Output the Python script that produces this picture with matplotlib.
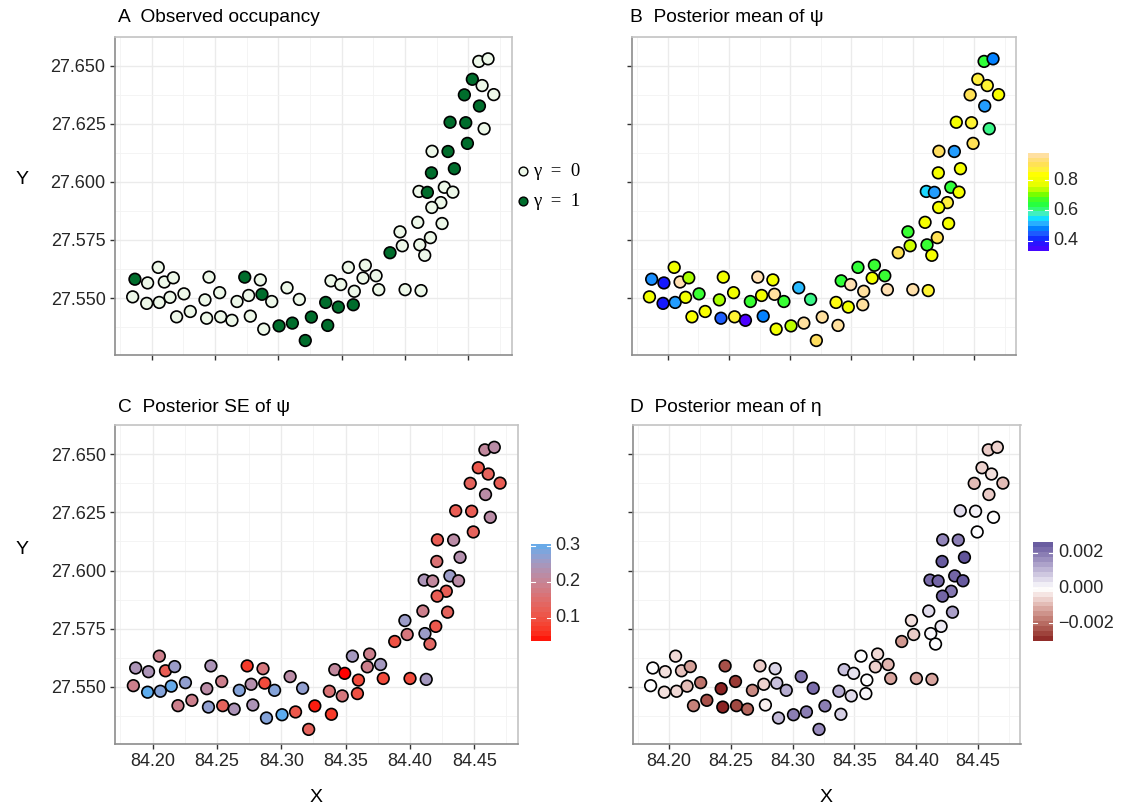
import numpy as np
import matplotlib
matplotlib.use("Agg")
import matplotlib.pyplot as plt
from matplotlib.colors import ListedColormap, Normalize, to_rgb
import matplotlib.transforms as mtransforms
import colorsys

# ---------------- data ----------------
x_coord = [84.1868, 84.1968, 84.2052, 84.2100, 84.2171, 84.1850, 84.1961, 84.2060, 84.2145, 84.2255,
           84.2197, 84.2305, 84.2453, 84.2421, 84.2537, 84.2434, 84.2545, 84.2634, 84.2735, 84.2858,
           84.2674, 84.2766, 84.2871, 84.2948, 84.2779, 84.3069, 84.3166, 84.2885, 84.3006, 84.3111,
           84.3213, 84.3261, 84.3390, 84.3374, 84.3474, 84.3592, 84.3416, 84.3493, 84.3600, 84.3553,
           84.3687, 84.3669, 84.3772, 84.3793, 84.4001, 84.4127, 84.3882, 84.3979, 84.4117, 84.4156,
           84.4583, 84.4656, 84.4532, 84.4609, 84.4701, 84.4469, 84.4588, 84.4356, 84.4480, 84.4625,
           84.4493, 84.4214, 84.4340, 84.4390, 84.4209, 84.4111, 84.4177, 84.4311, 84.4378, 84.4283,
           84.4212, 84.4101, 84.4293, 84.3961, 84.4201]
y_coord = [27.5581, 27.5565, 27.5632, 27.5569, 27.5587, 27.5505, 27.5477, 27.5481, 27.5503, 27.5518,
           27.5419, 27.5442, 27.5590, 27.5492, 27.5523, 27.5413, 27.5419, 27.5404, 27.5590, 27.5578,
           27.5485, 27.5511, 27.5516, 27.5485, 27.5422, 27.5544, 27.5494, 27.5366, 27.5380, 27.5392,
           27.5317, 27.5418, 27.5382, 27.5481, 27.5461, 27.5471, 27.5574, 27.5558, 27.5529, 27.5632,
           27.5641, 27.5586, 27.5596, 27.5536, 27.5536, 27.5532, 27.5695, 27.5725, 27.5729, 27.5684,
           27.6519, 27.6530, 27.6442, 27.6415, 27.6376, 27.6375, 27.6327, 27.6257, 27.6255, 27.6229,
           27.6166, 27.6132, 27.6131, 27.6057, 27.6039, 27.5959, 27.5955, 27.5977, 27.5956, 27.5911,
           27.5890, 27.5826, 27.5821, 27.5785, 27.5760]
occupancy = [1, 0, 0, 0, 0, 0, 0, 0, 0, 0,
             0, 0, 0, 0, 0, 0, 0, 0, 1, 0,
             0, 0, 1, 0, 0, 0, 0, 0, 1, 1,
             1, 1, 1, 1, 1, 1, 0, 0, 0, 0,
             0, 0, 0, 0, 0, 0, 1, 0, 0, 0,
             0, 0, 1, 0, 0, 1, 1, 1, 1, 0,
             1, 0, 1, 1, 1, 0, 1, 0, 0, 0,
             0, 0, 0, 0, 0]
psi_mean = [0.49, 0.40, 0.80, 0.98, 0.73, 0.80, 0.40, 0.50, 0.80, 0.66,
            0.82, 0.82, 0.80, 0.73, 0.80, 0.45, 0.86, 0.335, 0.98, 0.80,
            0.66, 0.80, 0.96, 0.66, 0.48, 0.52, 0.60, 0.80, 0.74, 0.96,
            0.91, 0.96, 0.96, 0.84, 0.80, 0.96, 0.65, 0.98, 0.96, 0.65,
            0.66, 0.80, 0.66, 0.98, 0.97, 0.86, 0.90, 0.75, 0.66, 0.81,
            0.65, 0.48, 0.87, 0.86, 0.82, 0.90, 0.50, 0.81, 0.86, 0.60,
            0.90, 0.91, 0.50, 0.81, 0.81, 0.54, 0.50, 0.65, 0.81, 0.87,
            0.81, 0.81, 0.81, 0.66, 0.90]
psi_se = [0.24, 0.24, 0.19, 0.12, 0.26, 0.19, 0.305, 0.28, 0.30, 0.27,
          0.19, 0.19, 0.24, 0.22, 0.19, 0.27, 0.13, 0.24, 0.07, 0.17,
          0.28, 0.23, 0.09, 0.28, 0.24, 0.22, 0.27, 0.28, 0.305, 0.11,
          0.13, 0.045, 0.07, 0.16, 0.17, 0.10, 0.21, 0.035, 0.09, 0.25,
          0.19, 0.19, 0.25, 0.09, 0.09, 0.25, 0.10, 0.17, 0.26, 0.14,
          0.21, 0.22, 0.11, 0.13, 0.12, 0.13, 0.22, 0.12, 0.12, 0.22,
          0.13, 0.12, 0.22, 0.23, 0.16, 0.24, 0.21, 0.26, 0.22, 0.12,
          0.12, 0.19, 0.13, 0.26, 0.11]
eta_mean = [0.0000, -0.0004, -0.0005, -0.0008, -0.0013, 0.0000, -0.0004, -0.0005, -0.0009, -0.0019,
            -0.0017, -0.0024, -0.0024, -0.0030, -0.0027, -0.0030, -0.0025, -0.0021, -0.0007, 0.0006,
            -0.0016, -0.0006, 0.0009, 0.0012, -0.0002, 0.0020, 0.0022, 0.0010, 0.0019, 0.0019,
            0.0017, 0.0019, 0.0007, 0.0012, 0.0005, 0.0001, 0.0009, 0.0004, 0.0000, 0.0000,
            -0.0005, -0.0006, -0.0010, -0.0012, -0.0012, -0.0012, -0.0014, -0.0007, 0.0001, 0.0000,
            -0.0007, -0.0006, -0.0006, -0.0004, -0.0009, -0.0009, -0.0007, 0.0005, 0.0002, 0.0000,
            0.0000, 0.0018, 0.0019, 0.0026, 0.0025, 0.0022, 0.0023, 0.0023, 0.0025, 0.0020,
            0.0023, 0.0005, 0.0014, -0.0004, 0.0003]

x_ticks = [84.20, 84.25, 84.30, 84.35, 84.40, 84.45]
y_ticks = [27.550, 27.575, 27.600, 27.625, 27.650]
psi_ticks = [0.4, 0.6, 0.8]
se_ticks = [0.1, 0.2, 0.3]
eta_ticks = [-0.002, 0.000, 0.002]
eta_tick_labels = ["\u22120.002", "0.000", "0.002"]
panel_titles = ["A  Observed occupancy", "B  Posterior mean of \u03c8",
                "C  Posterior SE of \u03c8", "D  Posterior mean of \u03b7"]
legend_labels = ["\u03b3  =  0", "\u03b3  =  1"]

x = np.array(x_coord); y = np.array(y_coord)

# ---------------- colour helpers (Lab interpolation like ggplot) ----------------
_M = np.array([[0.4124, 0.3576, 0.1805], [0.2126, 0.7152, 0.0722], [0.0193, 0.1192, 0.9505]])
_W = np.array([0.95047, 1.0, 1.08883])


def rgb2lab(rgb):
    c = np.asarray(rgb, float)
    lin = np.where(c <= 0.04045, c / 12.92, ((c + 0.055) / 1.055) ** 2.4)
    t = (lin @ _M.T) / _W
    d = 6 / 29
    f = np.where(t > d ** 3, np.cbrt(t), t / (3 * d * d) + 4 / 29)
    return np.stack([116 * f[..., 1] - 16, 500 * (f[..., 0] - f[..., 1]), 200 * (f[..., 1] - f[..., 2])], -1)


def lab2rgb(lab):
    L, a, b = lab[..., 0], lab[..., 1], lab[..., 2]
    fy = (L + 16) / 116
    f = np.stack([fy + a / 500, fy, fy - b / 200], -1)
    d = 6 / 29
    t = np.where(f > d, f ** 3, 3 * d * d * (f - 4 / 29))
    lin = (t * _W) @ np.linalg.inv(_M).T
    c = np.where(lin <= 0.0031308, 12.92 * lin, 1.055 * np.abs(lin) ** (1 / 2.4) - 0.055)
    return np.clip(c, 0, 1)


def lab_cmap(colors, pos=None, N=256):
    labs = rgb2lab(np.array([to_rgb(c) for c in colors]))
    if pos is None:
        pos = np.linspace(0, 1, len(colors))
    t = np.linspace(0, 1, N)
    out = np.stack([np.interp(t, pos, labs[:, i]) for i in range(3)], -1)
    return ListedColormap(lab2rgb(out))


def topo_colors(n):
    j = n // 3; k = n // 3; i = n - j - k
    cols = [colorsys.hsv_to_rgb(h, 1, 1) for h in np.linspace(43 / 60, 31 / 60, i)]
    cols += [colorsys.hsv_to_rgb(h, 1, 1) for h in np.linspace(23 / 60, 11 / 60, j)]
    cols += [colorsys.hsv_to_rgb(h, s, 1) for h, s in zip(np.linspace(10 / 60, 6 / 60, k), np.linspace(1, 0.3, k))]
    return cols


cmap_psi = lab_cmap(topo_colors(10))
cmap_se = lab_cmap(["#FF0000", "#5CACEE"])
cmap_eta = lab_cmap(["#8B2323", "#FFFFFF", "#483D8B"])

psi = np.array(psi_mean); se = np.array(psi_se); eta = np.array(eta_mean)
norm_psi = Normalize(psi.min(), psi.max())
norm_se = Normalize(se.min(), se.max())
lim_eta = np.abs(eta).max()
norm_eta = Normalize(-lim_eta, lim_eta)

# ---------------- figure ----------------
plt.rcParams["font.family"] = ["Liberation Sans", "DejaVu Sans"]
W, H = 1124, 807
fig = plt.figure(figsize=(W / 100, H / 100), dpi=100)


def rect(l, t, r, b):
    return [l / W, 1 - b / H, (r - l) / W, (b - t) / H]


xr = x.max() - x.min(); yr = y.max() - y.min()
xlim = (x.min() - 0.05 * xr, x.max() + 0.05 * xr)
ylim = (y.min() - 0.05 * yr, y.max() + 0.05 * yr)

TXT = "#262626"
TICKFS = 13


def make_ax(r, xlab, ylab):
    ax = fig.add_axes(r)
    ax.set_xlim(xlim); ax.set_ylim(ylim)
    ax.set_xticks(x_ticks)
    ax.set_yticks(y_ticks)
    ax.set_xticks([t + 0.025 for t in [x_ticks[0] - 0.05] + x_ticks], minor=True)
    ax.set_yticks([t + 0.0125 for t in [y_ticks[0] - 0.025] + y_ticks], minor=True)
    ax.set_xticklabels(["%.2f" % t for t in x_ticks] if xlab else [])
    ax.set_yticklabels(["%.3f" % t for t in y_ticks] if ylab else [])
    ax.grid(which="major", color="#EBEBEB", lw=1.0)
    ax.grid(which="minor", color="#F3F3F3", lw=0.6)
    ax.set_axisbelow(True)
    ax.tick_params(which="major", length=3.5, width=1.0, color="#333333", labelsize=TICKFS,
                   labelcolor=TXT, pad=3)
    ax.tick_params(which="minor", length=0)
    for s in ["left", "bottom"]:
        ax.spines[s].set_color("#8C8C8C"); ax.spines[s].set_linewidth(1.2)
    for s in ["top", "right"]:
        ax.spines[s].set_color("#C4C4C4"); ax.spines[s].set_linewidth(1.2)
    return ax


axA = make_ax(rect(114.6, 36.8, 511.8, 354.6), False, True)
axB = make_ax(rect(632, 36.8, 1016, 354.6), False, False)
axC = make_ax(rect(115, 425.2, 518.4, 743.5), True, True)
axD = make_ax(rect(633, 425.2, 1020.5, 743.5), True, False)

S = 70; LW = 1.2
occ = np.array(occupancy)
colA = np.where(occ == 1, "#006D2C", "#EDF8E9")
axA.scatter(x, y, c=colA, s=S, edgecolors="black", linewidths=LW, zorder=3)
axB.scatter(x, y, c=psi, cmap=cmap_psi, norm=norm_psi, s=S, edgecolors="black", linewidths=LW, zorder=3)
axC.scatter(x, y, c=se, cmap=cmap_se, norm=norm_se, s=S, edgecolors="black", linewidths=LW, zorder=3)
axD.scatter(x, y, c=eta, cmap=cmap_eta, norm=norm_eta, s=S, edgecolors="black", linewidths=LW, zorder=3)


def cbar(r, cmap, norm, vmin, vmax, ticks, labels):
    cax = fig.add_axes(r)
    edges = np.linspace(vmin, vmax, 21)
    cent = (edges[:-1] + edges[1:]) / 2
    cax.pcolormesh([0, 1], edges, cent.reshape(-1, 1), cmap=cmap, norm=norm, shading="flat")
    cax.set_xlim(0, 1); cax.set_ylim(vmin, vmax); cax.axis("off")
    tr = mtransforms.blended_transform_factory(cax.transAxes, cax.transData)
    for t, lab in zip(ticks, labels):
        cax.plot([0, 0.2], [t, t], color="white", lw=0.8)
        cax.plot([0.8, 1], [t, t], color="white", lw=0.8)
        cax.text(1.22, t, lab, transform=tr, ha="left", va="center", fontsize=TICKFS, color=TXT)


cbar(rect(1028.3, 152.7, 1049, 250.7), cmap_psi, norm_psi, psi.min(), psi.max(), psi_ticks,
     ["%.1f" % t for t in psi_ticks])
cbar(rect(530.7, 544, 550.7, 641), cmap_se, norm_se, se.min(), se.max(), se_ticks,
     ["%.1f" % t for t in se_ticks])
cbar(rect(1032.7, 542.3, 1053.3, 641), cmap_eta, norm_eta, eta.min(), eta.max(), eta_ticks,
     eta_tick_labels)

# overlay for texts
ov = fig.add_axes([0, 0, 1, 1], zorder=10)
ov.set_xlim(0, W); ov.set_ylim(H, 0); ov.axis("off")
ov.patch.set_alpha(0)
for (tx, ty), t in zip([(118, 18), (630, 18), (118, 408), (630, 408)], panel_titles):
    ov.text(tx, ty, t, ha="left", va="center", fontsize=13.8, color="black")
ov.text(22, 180, "Y", ha="center", va="center", fontsize=14, color="black")
ov.text(22, 550, "Y", ha="center", va="center", fontsize=14, color="black")
ov.text(316, 797, "X", ha="center", va="center", fontsize=14, color="black")
ov.text(826, 797, "X", ha="center", va="center", fontsize=14, color="black")

# legend A
for (ly, fc), lab in zip([(171, "#EDF8E9"), (201, "#006D2C")], legend_labels):
    ov.scatter([523], [ly], s=40, c=fc, edgecolors="black", linewidths=1.0)
    ov.text(533, ly, lab, ha="left", va="center", fontsize=13.5,
            family=["Liberation Serif", "DejaVu Serif"], color="black")

fig.savefig("out.png", dpi=100)
